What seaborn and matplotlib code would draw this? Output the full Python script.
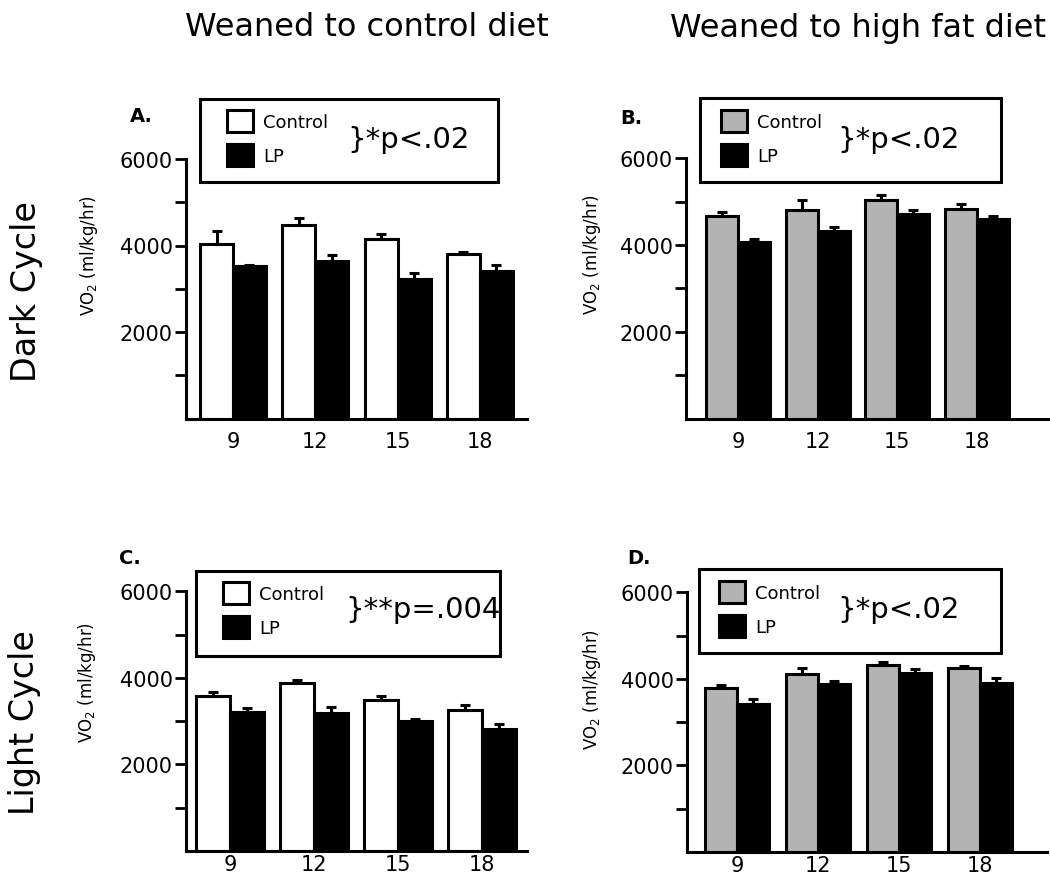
import numpy as np
import pandas as pd
import matplotlib
matplotlib.use("Agg")
import matplotlib.pyplot as plt
from matplotlib.patches import Patch, Rectangle
import seaborn as sns

# ---------------- data ----------------
ages = ["9", "12", "15", "18"]
groups = ["Control", "LP"]

a_control = [4040, 4480, 4160, 3810]
a_control_err = [290, 160, 110, 50]
a_lp = [3515, 3640, 3215, 3415]
a_lp_err = [45, 145, 150, 140]

b_control = [4670, 4800, 5040, 4830]
b_control_err = [85, 240, 105, 115]
b_lp = [4060, 4320, 4715, 4590]
b_lp_err = [70, 85, 90, 85]

c_control = [3575, 3875, 3500, 3260]
c_control_err = [110, 70, 85, 115]
c_lp = [3210, 3190, 3000, 2820]
c_lp_err = [85, 140, 55, 110]

d_control = [3780, 4115, 4310, 4240]
d_control_err = [85, 145, 77, 62]
d_lp = [3425, 3885, 4125, 3910]
d_lp_err = [100, 77, 100, 100]

col_titles = ["Weaned to control diet", "Weaned to high fat diet"]
row_titles = ["Dark Cycle", "Light Cycle"]
panel_letters = ["A.", "B.", "C.", "D."]
p_texts = ["}*p<.02", "}*p<.02", "}**p=.004", "}*p<.02"]
ylabel = "VO$_2$ (ml/kg/hr)"

# ---------------- style ----------------
sns.set_style("ticks")
plt.rcParams["font.family"] = ["DejaVu Sans"]
plt.rcParams["text.color"] = "black"
plt.rcParams["axes.labelcolor"] = "black"
plt.rcParams["xtick.color"] = "black"
plt.rcParams["ytick.color"] = "black"
plt.rcParams["axes.edgecolor"] = "black"

W, H = 1050, 878
fig = plt.figure(figsize=(W / 100, H / 100), dpi=100)


def fx(px):
    return px / W


def fy(py):
    return 1 - py / H


GRAY = "#b3b3b3"
panels = [
    dict(ctrl=a_control, ce=a_control_err, lp=a_lp, le=a_lp_err, col="white",
         box=(186, 527, 160, 419.5), xlim=(-0.571, 3.572), xpad=9,
         ylab=(100, 256), letter=(141, 117),
         frame=(200, 100, 498, 183), leg=(227, 139), ptxt=(347, 140)),
    dict(ctrl=b_control, ce=b_control_err, lp=b_lp, le=b_lp_err, col=GRAY,
         box=(686, 1048, 159.3, 419.5), xlim=(-0.652, 3.89), xpad=9,
         ylab=(603, 255), letter=(631, 118),
         frame=(700, 99, 1001, 183), leg=(721, 139), ptxt=(837, 140)),
    dict(ctrl=c_control, ce=c_control_err, lp=c_lp, le=c_lp_err, col="white",
         box=(186, 527, 592.3, 852), xlim=(-0.524, 3.536), xpad=2.5,
         ylab=(98, 683), letter=(130, 559),
         frame=(196, 572, 500, 657), leg=(223, 611), ptxt=(345, 610)),
    dict(ctrl=d_control, ce=d_control_err, lp=d_lp, le=d_lp_err, col=GRAY,
         box=(687, 1047, 593.3, 853), xlim=(-0.617, 3.827), xpad=2.5,
         ylab=(603, 690), letter=(639, 558),
         frame=(699, 570, 1001, 654), leg=(719, 610), ptxt=(837, 610)),
]

LW = 2.2
for i, p in enumerate(panels):
    l, r, t, b = p["box"]
    ax = fig.add_axes([fx(l), fy(b), fx(r) - fx(l), fy(t) - fy(b)])
    df = pd.DataFrame({
        "age": ages * 2,
        "group": ["Control"] * 4 + ["LP"] * 4,
        "value": list(p["ctrl"]) + list(p["lp"]),
    })
    pal = {"Control": p["col"], "LP": "black"}
    sns.barplot(data=df, x="age", y="value", hue="group", order=ages,
                hue_order=groups, palette=pal, edgecolor="black",
                linewidth=LW, errorbar=None, legend=False, width=0.8,
                saturation=1, ax=ax)
    for cont, errs in zip(ax.containers, [p["ce"], p["le"]]):
        xs = [bar.get_x() + bar.get_width() / 2 for bar in cont]
        hs = [bar.get_height() for bar in cont]
        ax.errorbar(xs, hs, yerr=[np.zeros(len(errs)), errs], fmt="none",
                    ecolor="black", elinewidth=LW, capsize=3.6,
                    capthick=LW, zorder=4, clip_on=False)
    ax.set_xlim(*p["xlim"])
    ax.set_ylim(0, 6000)
    ax.set_yticks([2000, 4000, 6000])
    ax.set_yticks([1000, 3000, 5000], minor=True)
    ax.set_yticklabels(["2000", "4000", "6000"])
    ax.tick_params(axis="y", which="both", length=8, width=2,
                   direction="out", labelsize=15, pad=1.5, colors="black")
    ax.tick_params(axis="x", length=0, labelsize=15, pad=p["xpad"],
                   colors="black")
    ax.set_xlabel("")
    ax.set_ylabel(ylabel, fontsize=12, color="black")
    lx, ly = p["ylab"]
    ax.yaxis.set_label_coords((lx - l) / (r - l), (b - ly) / (b - t))
    for s in ["top", "right"]:
        ax.spines[s].set_visible(False)
    for s in ["left", "bottom"]:
        ax.spines[s].set_linewidth(LW)
        ax.spines[s].set_color("black")
    ax.set_facecolor("white")

    fig.text(fx(p["letter"][0]), fy(p["letter"][1]), panel_letters[i],
             fontsize=14, fontweight="bold", ha="center", va="center")

    x0, y0, x1, y1 = p["frame"]
    fig.add_artist(Rectangle((fx(x0), fy(y1)), fx(x1) - fx(x0),
                             fy(y0) - fy(y1), transform=fig.transFigure,
                             fill=False, edgecolor="black", linewidth=LW,
                             zorder=5))
    handles = [Patch(facecolor=p["col"], edgecolor="black", linewidth=LW),
               Patch(facecolor="black", edgecolor="black", linewidth=LW)]
    leg = fig.legend(handles, groups, loc="center left",
                     bbox_to_anchor=(fx(p["leg"][0]), fy(p["leg"][1])),
                     bbox_transform=fig.transFigure, frameon=False,
                     fontsize=13, handlelength=1.45, handleheight=1.45,
                     handletextpad=0.55, labelspacing=0.68, borderpad=0,
                     borderaxespad=0)
    for txt in leg.get_texts():
        txt.set_color("black")
    fig.text(fx(p["ptxt"][0]), fy(p["ptxt"][1]), p_texts[i], fontsize=21,
             ha="left", va="center", color="black")

fig.text(fx(367), fy(28), col_titles[0], fontsize=23, ha="center",
         va="center", color="black")
fig.text(fx(858), fy(28), col_titles[1], fontsize=23, ha="center",
         va="center", color="black")
fig.text(fx(27), fy(292), row_titles[0], fontsize=24, rotation=90,
         ha="center", va="center", color="black")
fig.text(fx(25), fy(723), row_titles[1], fontsize=24, rotation=90,
         ha="center", va="center", color="black")

fig.savefig("out.png", dpi=100, facecolor="white")
